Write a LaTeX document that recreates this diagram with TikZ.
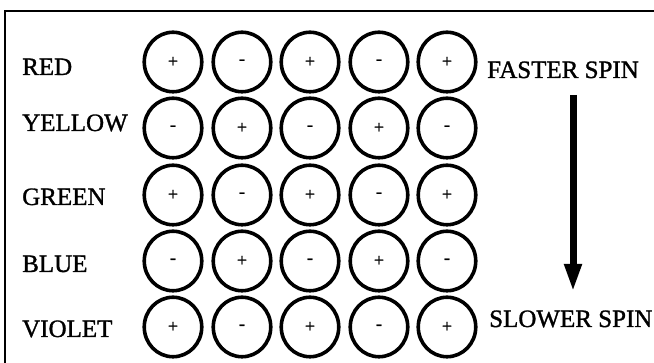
\documentclass[tikz,border=0pt]{standalone}
\usepackage{fontspec}
\setmainfont{Liberation Serif}[FakeBold=1.2]
\usetikzlibrary{arrows.meta,shapes.geometric}
\begin{document}
\begin{tikzpicture}[x=1pt,y=-1pt,
  spin/.style={draw, line width=3.6pt, ellipse, minimum width=57.5pt, minimum height=59.5pt, inner sep=0pt, font=\fontsize{18}{18}\selectfont},
  lbl/.style={anchor=base west, inner sep=0pt, font=\fontsize{25}{28}\selectfont},
  frameline/.style={line width=1.4pt}]
\useasboundingbox (0,0) rectangle (654,363);
\draw[frameline] (5,363) -- (5,11) -- (654,11);
% labels
\node[lbl] (red) at (22,75) {RED};
\node[lbl] (yellow) at (22,131) {YELLOW};
\node[lbl] (green) at (22,205) {GREEN};
\node[lbl] (blue) at (22,272) {BLUE};
\node[lbl] (violet) at (22,337) {VIOLET};
\node[lbl] (faster) at (487,78) {FASTER SPIN};
\node[lbl] (slower) at (489,327) {SLOWER SPIN};
% circles
\foreach \r/\y in {1/61,2/127,3/194,4/260,5/326}{
  \foreach \c/\x in {1/173,2/242,3/310,4/379,5/447}{
    \pgfmathtruncatemacro\s{mod(\r+\c,2)}
    \ifnum\s=0
      \node[spin] (c\r\c) at (\x,\y+1) {+};
    \else
      \node[spin] (c\r\c) at (\x,\y+1) {-};
    \fi
  }
}
\coordinate (atop) at (573,95);
\coordinate (abot) at (573,292);
\draw[line width=7pt, -{Triangle[length=28pt,width=16pt]}] (atop) -- (abot);
\end{tikzpicture}
\end{document}
